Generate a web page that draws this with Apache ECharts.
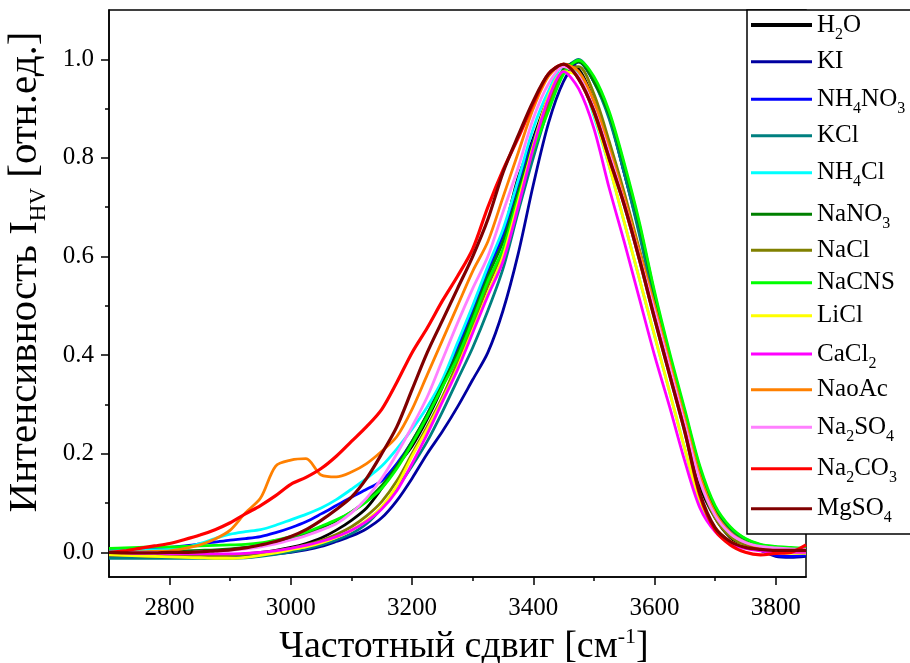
<!DOCTYPE html>
<html><head><meta charset="utf-8">
<script src="https://cdn.jsdelivr.net/npm/echarts@6/dist/echarts.min.js"></script>
<style>html,body{margin:0;padding:0;background:#fff}#c{width:910px;height:663px}</style>
</head><body><div id="c"></div>
<script>
// Raman shift grid (cm^-1)
const shift = [2700,2725,2750,2775,2800,2825,2850,2875,2900,2925,
  2950,2975,3000,3025,3050,3075,3100,3125,3150,3175,
  3200,3225,3250,3275,3300,3325,3350,3375,3400,3425,
  3450,3475,3500,3525,3550,3575,3600,3625,3650,3675,
  3700,3725,3750,3775,3800,3825,3850];

const H2O = [-0.009,-0.009,-0.010,-0.010,-0.010,-0.010,-0.009,-0.008,-0.006,-0.003,
  0.000,0.004,0.010,0.018,0.029,0.045,0.065,0.090,0.130,0.175,
  0.215,0.270,0.335,0.415,0.495,0.570,0.645,0.760,0.840,0.925,
  0.990,0.980,0.915,0.820,0.720,0.610,0.500,0.385,0.265,0.135,
  0.070,0.030,0.012,0.006,0.003,0.002,0.002];
const KI = [-0.007,-0.008,-0.009,-0.010,-0.010,-0.010,-0.010,-0.009,-0.008,-0.007,
  -0.005,-0.003,0.000,0.005,0.012,0.022,0.033,0.048,0.070,0.105,
  0.150,0.200,0.245,0.295,0.350,0.405,0.490,0.605,0.745,0.870,
  0.955,0.995,0.955,0.885,0.770,0.655,0.512,0.395,0.280,0.165,
  0.085,0.042,0.018,0.004,-0.008,-0.010,-0.008];
const NH4NO3 = [0.005,0.005,0.006,0.008,0.010,0.013,0.017,0.021,0.025,0.028,
  0.032,0.040,0.050,0.062,0.078,0.095,0.112,0.128,0.145,0.180,
  0.225,0.280,0.345,0.415,0.490,0.570,0.645,0.745,0.835,0.915,
  0.980,0.995,0.955,0.885,0.770,0.650,0.512,0.395,0.280,0.165,
  0.085,0.045,0.020,0.005,-0.006,-0.008,-0.005];
const KCl = [-0.012,-0.012,-0.012,-0.012,-0.012,-0.012,-0.012,-0.012,-0.012,-0.011,
  -0.008,-0.004,0.001,0.007,0.015,0.025,0.038,0.058,0.090,0.130,
  0.175,0.225,0.285,0.350,0.415,0.490,0.575,0.690,0.800,0.900,
  0.975,1.000,0.955,0.880,0.770,0.645,0.510,0.390,0.275,0.160,
  0.085,0.045,0.020,0.008,0.003,0.000,0.000];
const NH4Cl = [0.003,0.004,0.005,0.005,0.006,0.010,0.018,0.028,0.037,0.042,
  0.046,0.055,0.066,0.077,0.090,0.107,0.128,0.150,0.175,0.210,
  0.250,0.295,0.350,0.425,0.500,0.580,0.655,0.755,0.860,0.935,
  0.985,0.970,0.885,0.785,0.670,0.555,0.440,0.325,0.210,0.100,
  0.045,0.020,0.010,0.005,0.003,0.002,0.002];
const NaNO3 = [0.000,0.000,0.000,0.001,0.002,0.003,0.004,0.005,0.007,0.010,
  0.014,0.020,0.028,0.038,0.050,0.064,0.082,0.105,0.135,0.175,
  0.225,0.280,0.340,0.405,0.480,0.560,0.630,0.730,0.830,0.915,
  0.980,0.995,0.955,0.890,0.785,0.665,0.525,0.400,0.285,0.170,
  0.090,0.050,0.027,0.015,0.010,0.008,0.006];
const NaCl = [-0.005,-0.006,-0.007,-0.008,-0.008,-0.008,-0.008,-0.007,-0.006,-0.004,
  -0.001,0.003,0.008,0.015,0.024,0.036,0.052,0.074,0.103,0.145,
  0.200,0.255,0.315,0.385,0.460,0.540,0.610,0.715,0.815,0.905,
  0.975,0.985,0.930,0.835,0.730,0.615,0.500,0.380,0.260,0.145,
  0.070,0.032,0.014,0.007,0.004,0.003,0.003];
const NaCNS = [0.008,0.009,0.010,0.011,0.011,0.012,0.013,0.014,0.015,0.016,
  0.019,0.025,0.032,0.041,0.053,0.066,0.082,0.103,0.130,0.170,
  0.220,0.275,0.335,0.395,0.470,0.550,0.615,0.720,0.815,0.895,
  0.970,0.998,0.965,0.895,0.790,0.670,0.530,0.405,0.290,0.175,
  0.095,0.052,0.028,0.016,0.012,0.010,0.008];
const LiCl = [-0.005,-0.006,-0.007,-0.008,-0.009,-0.010,-0.011,-0.012,-0.012,-0.010,
  -0.006,-0.001,0.005,0.011,0.019,0.030,0.045,0.065,0.092,0.135,
  0.195,0.250,0.310,0.375,0.450,0.525,0.600,0.710,0.825,0.925,
  0.975,0.965,0.890,0.785,0.670,0.555,0.440,0.325,0.210,0.105,
  0.050,0.022,0.010,0.004,0.000,-0.002,-0.002];
const CaCl2 = [0.000,-0.001,-0.002,-0.002,-0.003,-0.003,-0.003,-0.003,-0.003,-0.002,
  0.000,0.003,0.008,0.014,0.022,0.032,0.045,0.063,0.088,0.125,
  0.180,0.240,0.305,0.370,0.445,0.520,0.590,0.700,0.820,0.920,
  0.975,0.940,0.860,0.740,0.630,0.515,0.400,0.295,0.185,0.090,
  0.042,0.018,0.008,0.003,0.000,0.000,0.000];
const NaoAc = [0.000,0.000,0.001,0.002,0.003,0.008,0.015,0.027,0.045,0.080,
  0.110,0.175,0.187,0.190,0.157,0.153,0.163,0.180,0.205,0.235,
  0.290,0.360,0.430,0.500,0.570,0.630,0.720,0.810,0.900,0.965,
  0.990,0.975,0.915,0.820,0.720,0.610,0.500,0.385,0.270,0.155,
  0.080,0.040,0.020,0.010,0.005,0.003,0.003];
const Na2SO4 = [0.000,0.000,0.000,0.000,0.000,0.000,0.001,0.002,0.004,0.007,
  0.011,0.017,0.025,0.034,0.045,0.058,0.080,0.110,0.150,0.200,
  0.255,0.315,0.390,0.465,0.535,0.600,0.690,0.780,0.880,0.950,
  0.985,0.965,0.900,0.810,0.710,0.600,0.490,0.375,0.260,0.145,
  0.075,0.038,0.020,0.012,0.009,0.007,0.006];
const Na2CO3 = [0.000,0.003,0.008,0.013,0.018,0.026,0.035,0.046,0.060,0.078,
  0.095,0.115,0.138,0.152,0.170,0.195,0.225,0.255,0.290,0.345,
  0.405,0.455,0.510,0.560,0.615,0.700,0.775,0.840,0.910,0.970,
  0.990,0.960,0.895,0.800,0.705,0.595,0.475,0.360,0.245,0.115,
  0.045,0.015,0.000,-0.005,-0.002,0.000,0.015];
const MgSO4 = [0.000,-0.001,-0.001,-0.001,0.000,0.000,0.001,0.003,0.005,0.009,
  0.015,0.022,0.032,0.046,0.065,0.087,0.112,0.150,0.200,0.255,
  0.330,0.405,0.470,0.535,0.600,0.675,0.770,0.845,0.915,0.970,
  0.990,0.960,0.895,0.800,0.705,0.595,0.475,0.360,0.245,0.120,
  0.050,0.022,0.010,0.006,0.004,0.004,0.004];

const seriesNames = ['H2O','KI','NH4NO3','KCl','NH4Cl','NaNO3','NaCl','NaCNS','LiCl','CaCl2','NaoAc','Na2SO4','Na2CO3','MgSO4'];
const seriesValues = [H2O,KI,NH4NO3,KCl,NH4Cl,NaNO3,NaCl,NaCNS,LiCl,CaCl2,NaoAc,Na2SO4,Na2CO3,MgSO4];
const seriesColors = ['#000000','#0000A0','#0000FF','#008080','#00FFFF','#008000','#808000','#00FF00','#FFFF00','#FF00FF','#FF8000','#FF80FF','#FF0000','#800000'];

const xTickLabels = [2800,3000,3200,3400,3600,3800];
const xMinorTicks = [2900,3100,3300,3500,3700];
const yTickLabels = [0.0,0.2,0.4,0.6,0.8,1.0];
const yMinorTicks = [0.1,0.3,0.5,0.7,0.9];

const xTitle = '{m|Частотный сдвиг [см}{p|-1}{m|]}';
const yTitle = '{m|Интенсивность I}{s|HV}{m| [отн.ед.]}';

const FONT = 'Liberation Serif';
const legendCenters = [25,66.7,99.3,140.7,172.7,214.3,255.3,287.7,320.7,354,394.7,427.3,468.7,508.7];

function chemRich(name){
  return name.split(/(\d+)/).filter(Boolean).map(t => /\d/.test(t) ? '{s|'+t+'}' : '{m|'+t+'}').join('');
}

const chart = echarts.init(document.getElementById('c'), null, {renderer:'canvas'});

const axisLineStyle = {color:'#000', width:1.5};

const option = {
  animation: false,
  backgroundColor: '#fff',
  grid: {left:109, right:104, top:10, bottom:86, show:true, borderColor:'#000', borderWidth:1.5, backgroundColor:'transparent', containLabel:false, outerBoundsMode:'none'},
  xAxis: [
    {type:'value', min:2700, max:3850, position:'bottom',
     axisLine:{show:true, onZero:false, lineStyle:axisLineStyle},
     axisTick:{show:true, inside:false, length:8, customValues:xTickLabels, lineStyle:axisLineStyle},
     axisLabel:{show:true, customValues:xTickLabels, margin:19, fontSize:25, color:'#000', fontFamily:FONT, formatter:v=>String(v)},
     splitLine:{show:false},
     name:xTitle, nameLocation:'middle', nameGap:43,
     nameTextStyle:{color:'#000', fontFamily:FONT, padding:[0,0,0,13],
       rich:{m:{fontSize:38, lineHeight:42, fontFamily:FONT, color:'#000', verticalAlign:'middle'},
             p:{fontSize:22, lineHeight:42, fontFamily:FONT, color:'#000', verticalAlign:'top', padding:[0,0,20,0]}}}},
    {type:'value', min:2700, max:3850, position:'bottom',
     axisLine:{show:false, onZero:false},
     axisTick:{show:true, inside:false, length:4, customValues:xMinorTicks, lineStyle:axisLineStyle},
     axisLabel:{show:false}, splitLine:{show:false}}
  ],
  yAxis: [
    {type:'value', min:-0.05, max:1.1, position:'left',
     axisLine:{show:true, onZero:false, lineStyle:axisLineStyle},
     axisTick:{show:true, inside:false, length:8, customValues:yTickLabels, lineStyle:axisLineStyle},
     axisLabel:{show:true, customValues:yTickLabels, margin:15, fontSize:25, color:'#000', fontFamily:FONT, formatter:v=>Number(v).toFixed(1)},
     splitLine:{show:false},
     name:yTitle, nameLocation:'middle', nameGap:59,
     nameTextStyle:{color:'#000', fontFamily:FONT, padding:[0,0,0,43],
       rich:{m:{fontSize:41, lineHeight:49, fontFamily:FONT, color:'#000', verticalAlign:'middle'},
             s:{fontSize:23, lineHeight:49, fontFamily:FONT, color:'#000', verticalAlign:'bottom', padding:[27,0,0,0]}}}},
    {type:'value', min:-0.05, max:1.1, position:'left',
     axisLine:{show:false, onZero:false},
     axisTick:{show:true, inside:false, length:4, customValues:yMinorTicks, lineStyle:axisLineStyle},
     axisLabel:{show:false}, splitLine:{show:false}}
  ],
  legend: seriesNames.map((n,i) => ({
    data:[n], left:751, top:legendCenters[i]-17.5, orient:'vertical', padding:0, itemGap:0,
    itemWidth:61, itemHeight: i===0 ? 4 : 3, icon:'rect', selectedMode:false, z:100,
    formatter: name => chemRich(name),
    textStyle:{color:'#000', fontFamily:FONT,
      rich:{m:{fontSize:25, lineHeight:35, fontFamily:FONT, color:'#000', verticalAlign:'middle'},
            s:{fontSize:16, lineHeight:35, fontFamily:FONT, color:'#000', verticalAlign:'bottom', padding:[19,0,0,0]}}}
  })),
  graphic: [{type:'rect', z:50, shape:{x:747, y:10, width:175, height:524},
    style:{fill:'#fff', stroke:'#000', lineWidth:1.5}}],
  series: seriesNames.map((n,i) => ({
    name:n, type:'line', xAxisIndex:0, yAxisIndex:0,
    data: shift.map((x,k) => [x, seriesValues[i][k]]),
    showSymbol:false, symbol:'none', smooth:0.3,
    lineStyle:{color:seriesColors[i], width: (i===12||i===13) ? 3.2 : 2.8},
    itemStyle:{color:seriesColors[i]},
    emphasis:{disabled:true}, z: 2 + i*0.01
  }))
};
chart.setOption(option);
</script>
</body></html>
